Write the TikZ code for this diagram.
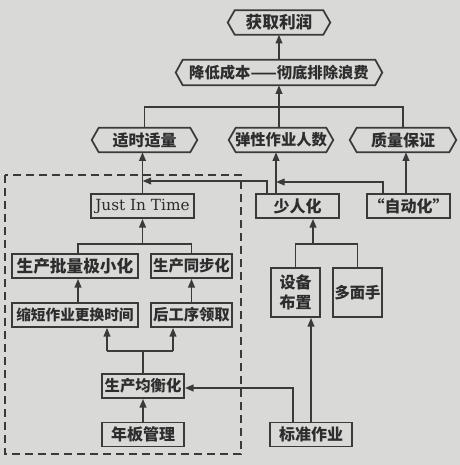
\documentclass[tikz,border=0pt]{standalone}
\usepackage{fontspec}
\setmainfont{DejaVu Serif}
\newfontfamily\cjk{Noto Sans CJK SC}
\usetikzlibrary{arrows.meta}
\definecolor{bg}{RGB}{217,217,215}
\definecolor{ink}{RGB}{58,58,58}
\definecolor{txt}{RGB}{45,45,45}
\tikzset{
  ln/.style={draw=ink, line width=1.3pt},
  arr/.style={ln, -{Triangle[length=6.5pt,width=5pt]}},
  hexnode/.style={inner sep=0pt, minimum height=18pt, text=txt, font=\cjk\bfseries\fontsize{11.5}{14}\selectfont},
  boxnode/.style={draw=ink, line width=1.3pt, inner sep=0pt, minimum height=18pt, text=txt, font=\cjk\bfseries\fontsize{11.5}{14}\selectfont},
  dashbox/.style={draw=ink, line width=1.1pt, dash pattern=on 6pt off 3.75pt}
}
\begin{document}
\begin{tikzpicture}[x=0.75pt,y=-0.75pt]
\useasboundingbox (0,0) rectangle (460,465);
\fill[bg] (0,0) rectangle (460,465);
% hexagon nodes
\node[hexnode, minimum width=76.5pt, font=\cjk\bfseries\fontsize{12.5}{14}\selectfont] (h1) at (279,22.5) {获取利润};
\node[hexnode, minimum width=154.5pt, minimum height=18.75pt] (h2) at (279,72.5) {降低成本——彻底排除浪费};
\node[hexnode, minimum width=78.75pt, font=\cjk\bfseries\fontsize{12}{14}\selectfont] (h3) at (144.5,140) {适时适量};
\node[hexnode, minimum width=78pt] (h4) at (281,140) {弹性作业人数};
\node[hexnode, minimum width=79.5pt, font=\cjk\bfseries\fontsize{12}{14}\selectfont] (h5) at (403,140) {质量保证};
\foreach \n in {h1,h2,h3,h4,h5}
  \draw[ln, line join=miter] (\n.west) -- ([xshift=5.25pt]\n.north west) -- ([xshift=-5.25pt]\n.north east) -- (\n.east) -- ([xshift=-5.25pt]\n.south east) -- ([xshift=5.25pt]\n.south west) -- cycle;
% boxes
\node[boxnode, minimum width=77.25pt, font=\fontsize{11.5}{14}\selectfont] (jit) at (142.5,206) {Just In Time};
\node[boxnode, minimum width=62.25pt, font=\cjk\bfseries\fontsize{12}{14}\selectfont] (shao) at (297.5,206) {少人化};
\node[boxnode, minimum width=62.25pt, font=\cjk\bfseries\fontsize{12}{14}\selectfont] (zdh) at (408.5,206) {“自动化”};
\node[boxnode, minimum width=94.5pt, font=\cjk\bfseries\fontsize{12.5}{14}\selectfont] (pl) at (75,266) {生产批量极小化};
\node[boxnode, minimum width=60.75pt] (tb) at (191.5,266) {生产同步化};
\node[boxnode, minimum width=94.5pt, font=\cjk\bfseries\fontsize{11}{14}\selectfont] (sd) at (75,315) {缩短作业更换时间};
\node[boxnode, minimum width=60.75pt] (hg) at (191.5,315) {后工序领取};
\node[boxnode, minimum width=61.5pt] (jh) at (143,386) {生产均衡化};
\node[boxnode, minimum width=61.5pt, font=\cjk\bfseries\fontsize{12}{14}\selectfont] (nb) at (143,434.5) {年板管理};
\node[boxnode, minimum width=61.5pt, font=\cjk\bfseries\fontsize{12}{14}\selectfont] (bz) at (311,434.5) {标准作业};
\node[boxnode, minimum width=36.75pt, minimum height=36.75pt, align=center, font=\cjk\bfseries\fontsize{12}{15}\selectfont] (sb) at (295.5,292.5) {设备\\布置};
\node[boxnode, minimum width=36.75pt, minimum height=36.75pt] (dm) at (357.5,292.5) {多面手};
% dashed region
\draw[dashbox] (5,175) rectangle (241,454);
% helper coordinates
\coordinate (bus1) at (0,107);
\coordinate (s1) at (276,0);
\coordinate (s2) at (267,181);
\coordinate (z1) at (383,182);
\coordinate (z2) at (406,0);
\coordinate (b2) at (0,244);
\coordinate (p1) at (78,0);
\coordinate (b3) at (0,351);
\coordinate (q1) at (107,0);
\coordinate (q2) at (173,0);
\coordinate (t1) at (293,388);
\coordinate (t2) at (311,0);
\coordinate (t3) at (313,244);
% connectors
\draw[arr] (h2.north) -- (h1.south);
\draw[arr] (h4.north -| h2.south) -- (h2.south);
\draw[ln] (h3.north) -- (h3.north |- bus1) -- (h5.north |- bus1) -- (h5.north);
\draw[arr] (jit.north) -- (jit.north |- h3.south);
\draw[arr] (shao.north -| s1) -- (h4.south -| s1);
\draw[arr] (shao.north -| s2) -- (s2) -- (s2 -| jit.north);
\draw[arr] (zdh.north -| z1) -- (z1) -- (z1 -| s1);
\draw[arr] (zdh.north -| z2) -- (h5.south -| z2);
\draw[ln] (pl.north -| p1) |- (b2 -| tb.north) -- (tb.north);
\draw[arr] (b2 -| jit.south) -- (jit.south);
\draw[arr] (sd.north -| p1) -- (pl.south -| p1);
\draw[arr] (hg.north) -- (tb.south);
\draw[ln] (b3 -| q1) -- (b3 -| q2);
\draw[arr] (b3 -| q1) -- (sd.south -| q1);
\draw[arr] (b3 -| q2) -- (hg.south -| q2);
\draw[ln] (jh.north) -- (jh.north |- b3);
\draw[arr] (nb.north) -- (jh.south);
\draw[arr] (bz.north -| t1) -- (t1) -- (t1 -| jh.east);
\draw[arr] (bz.north -| t2) -- (sb.south -| t2);
\draw[ln] (sb.north) |- (b2 -| dm.north) -- (dm.north);
\draw[arr] (t3) -- (shao.south -| t3);
\end{tikzpicture}
\end{document}
